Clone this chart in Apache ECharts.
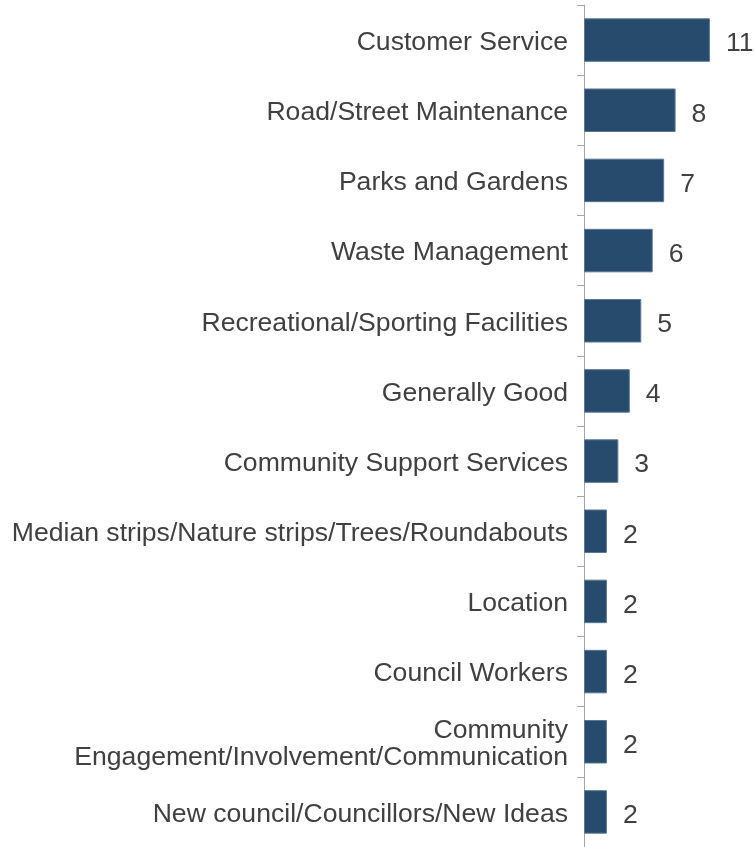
<!DOCTYPE html>
<html>
<head>
<meta charset="utf-8">
<script src="https://cdn.jsdelivr.net/npm/echarts@6/dist/echarts.min.js"></script>
<style>
  html, body { margin: 0; padding: 0; background: #ffffff; }
  #chart { width: 755px; height: 847px; }
</style>
</head>
<body>
<div id="chart"></div>
<script>
// Categories, listed top to bottom
const categories = [
  'Customer Service',
  'Road/Street Maintenance',
  'Parks and Gardens',
  'Waste Management',
  'Recreational/Sporting Facilities',
  'Generally Good',
  'Community Support Services',
  'Median strips/Nature strips/Trees/Roundabouts',
  'Location',
  'Council Workers',
  'Community\nEngagement/Involvement/Communication',
  'New council/Councillors/New Ideas'
];

// Number of mentions per category
const counts = [11, 8, 7, 6, 5, 4, 3, 2, 2, 2, 2, 2];

const chart = echarts.init(document.getElementById('chart'), null, { renderer: 'canvas' });

const textColor = '#404040';
const fontFamily = 'Liberation Sans, Arial, sans-serif';

chart.setOption({
  animation: false,
  backgroundColor: '#ffffff',
  grid: { left: 584, top: 5, bottom: 0, right: 10.7, containLabel: false },
  xAxis: {
    type: 'value',
    min: 0,
    max: 14,
    show: false
  },
  yAxis: {
    type: 'category',
    data: categories,
    inverse: true,
    axisLine: { show: true, lineStyle: { color: '#A6A6A6', width: 1 } },
    axisTick: { show: true, length: 7, lineStyle: { color: '#A6A6A6', width: 1 } },
    axisLabel: {
      margin: 16,
      align: 'right',
      // each line sits a little below the middle of its band
      formatter: function (v) {
        return v.split('\n').map(function (s) { return '{t|' + s + '}'; }).join('\n');
      },
      rich: {
        t: {
          color: textColor,
          fontSize: 26.6,
          fontFamily: fontFamily,
          lineHeight: 27,
          padding: [5, 0, 0, 0]
        }
      }
    },
    splitLine: { show: false }
  },
  series: [{
    type: 'bar',
    data: counts,
    barCategoryGap: '38%',
    itemStyle: { color: '#274B6D', borderColor: '#5A7794', borderWidth: 1 },
    label: {
      show: true,
      position: 'right',
      distance: 16,
      offset: [0, 4],
      color: textColor,
      fontSize: 26.6,
      fontFamily: fontFamily
    }
  }]
});
</script>
</body>
</html>
